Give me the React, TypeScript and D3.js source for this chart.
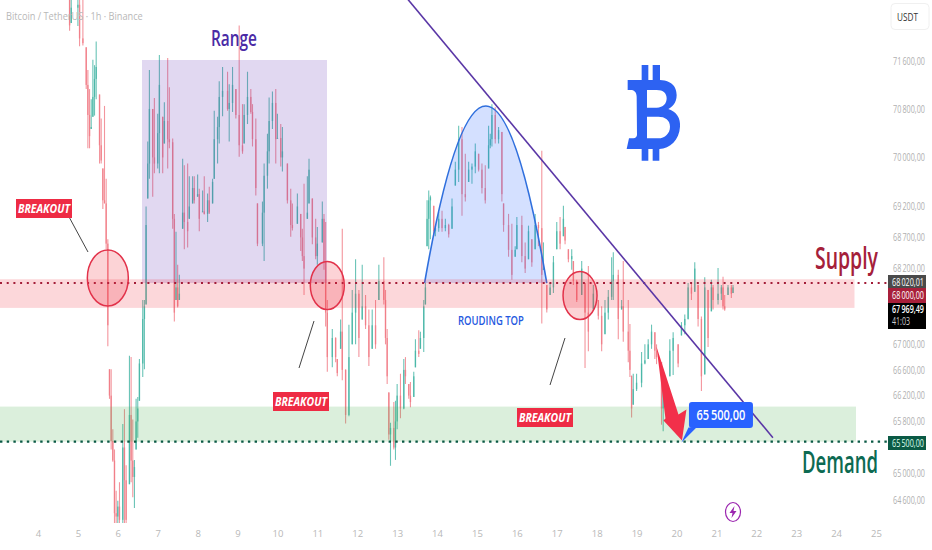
import { useRef, useEffect } from 'react'
import * as d3 from 'd3'

const width = 932
const height = 550

// hours since midnight of the 4th (candles that show up in the picture)
const hours = [
  19, 20, 24, 25, 27, 29, 30, 31, 32, 33, 34, 35, 37, 38, 39, 40, 41, 42, 43, 44,
  45, 46, 47, 48, 49, 51, 52, 53, 55, 56, 57, 58, 59, 60, 61, 63, 64, 65, 66, 67,
  69, 70, 72, 73, 75, 76, 78, 79, 81, 82, 83, 84, 85, 87, 88, 90, 91, 93, 94, 96,
  97, 99, 100, 102, 103, 105, 106, 108, 109, 111, 114, 115, 117, 119, 121, 123, 124, 126, 128, 129,
  131, 132, 135, 136, 138, 139, 141, 143, 144, 146, 147, 150, 152, 153, 156, 158, 159, 160, 162, 163,
  165, 167, 168, 171, 172, 173, 174, 177, 179, 180, 182, 183, 185, 187, 189, 191, 193, 195, 197, 199,
  201, 203, 205, 208, 209, 210, 211, 212, 214, 215, 216, 218, 220, 221, 223, 224, 226, 227, 229, 230,
  232, 233, 234, 235, 236, 238, 239, 241, 243, 245, 247, 249, 251, 253, 255, 257, 259, 261, 263, 265,
  267, 269, 271, 272, 273, 275, 277, 279, 280, 283, 285, 287, 288, 291, 293, 295, 297, 299, 301, 303,
  304, 306, 308, 310, 312, 314, 316, 317, 319, 321, 322, 324, 327, 329, 331, 334, 337, 339, 341, 343,
  345, 346, 349, 351, 352, 355, 356, 357, 358, 360, 363, 365, 367, 369, 371, 372, 375, 376, 378, 380,
  382, 385, 387, 389, 391, 393, 395, 397, 399, 401, 403, 405, 406, 409, 411, 412, 413, 415, 417, 418,
]
const highs = [
  72700, 72700, 72700, 72700, 72700, 71830, 71450, 71130, 70960, 71620, 71530, 71930, 71040, 70640, 69820, 70850, 69650, 68670, 66610, 66610,
  65680, 65370, 64740, 64590, 64870, 65760, 65990, 65130, 66820, 66800, 65830, 65210, 66150, 66180, 66770, 67700, 67700, 69200, 70260, 71450,
  70800, 70980, 70720, 71700, 70670, 70910, 71650, 71160, 70310, 69080, 68790, 68260, 68100, 69980, 69870, 69900, 69690, 69690, 69690, 69720,
  69490, 69460, 69690, 69410, 69520, 69650, 70770, 70670, 71260, 71500, 71420, 71210, 71500, 71130, 72200, 70880, 70880, 71420, 71130, 70880,
  70640, 69250, 69280, 69900, 70390, 70990, 71090, 71130, 70720, 70550, 70500, 69900, 69490, 69250, 69410, 69080, 68840, 69570, 69690, 69980,
  69330, 69000, 68870, 69280, 69080, 68950, 67700, 67240, 67110, 66770, 67390, 68840, 66610, 67310, 67860, 68350, 67860, 68260, 67780, 67550,
  67550, 67700, 68260, 68380, 67860, 67240, 66250, 65780, 66100, 66120, 66380, 66540, 66770, 66800, 66380, 66410, 66570, 67080, 67220, 67200,
  67700, 67970, 69300, 69460, 69380, 69210, 68890, 69110, 69130, 69000, 68920, 69330, 69930, 70520, 70500, 70060, 69930, 69900, 70230, 70060,
  69900, 69870, 70520, 70390, 70880, 70830, 70500, 70420, 69250, 69080, 68920, 68560, 69030, 69050, 68620, 68890, 68670, 69080, 68950, 70110,
  68620, 67940, 67970, 68400, 68950, 69030, 69210, 68870, 68510, 68510, 68320, 68020, 68320, 67970, 68240, 67940, 67700, 67600, 67700, 67860,
  68380, 68460, 68180, 67700, 68320, 67700, 67320, 66510, 66540, 66540, 66880, 67000, 67080, 67310, 67190, 67000, 66720, 66460, 65990, 67080,
  67190, 67000, 67350, 67470, 67970, 67970, 68300, 67940, 67440, 68060, 67860, 68020, 67940, 68210, 67940, 68070, 67780, 67940, 67940, 67940,
]
const lows = [
  72110, 72240, 72190, 71850, 71860, 71130, 70150, 70150, 70470, 70670, 70690, 70960, 69900, 69900, 69160, 69250, 68510, 66970, 66150, 65370,
  65180, 64200, 64200, 64200, 64200, 64200, 64200, 64200, 64840, 64870, 64640, 64480, 65370, 65550, 66120, 66490, 66610, 67630, 69330, 69650,
  69360, 69740, 69820, 69740, 69740, 70230, 69820, 70150, 68840, 67360, 67700, 67580, 67700, 68840, 68510, 68540, 69000, 69250, 69250, 69360,
  68800, 69110, 69070, 68950, 69080, 69250, 69650, 69900, 70230, 70680, 70770, 70260, 70750, 70640, 70010, 70060, 70230, 70550, 70720, 70180,
  69380, 68560, 68560, 68320, 69490, 69900, 70470, 69900, 70310, 69850, 69770, 69250, 68710, 68810, 68920, 68480, 68320, 67780, 69000, 69250,
  68590, 68350, 68260, 68620, 68180, 67280, 66570, 66640, 66720, 66500, 66930, 66440, 65770, 65880, 67000, 67000, 66800, 67390, 67240, 66660,
  66930, 66930, 67700, 67630, 67000, 66380, 65520, 65120, 65370, 65210, 65680, 65850, 65990, 66380, 66150, 66020, 66180, 66640, 66800, 66930,
  66880, 67630, 68560, 68510, 68670, 68720, 68720, 68790, 68790, 68800, 68700, 68840, 69540, 69600, 69050, 69280, 69600, 69570, 69740, 69770,
  69410, 69250, 69820, 70150, 70180, 70230, 70230, 69280, 68790, 68390, 68020, 68390, 68510, 68300, 68130, 68350, 68230, 68510, 68560, 67330,
  68180, 67500, 67780, 67810, 68510, 68510, 68720, 68590, 68300, 68180, 67940, 67670, 67780, 66630, 66890, 67550, 67390, 66890, 67160, 67390,
  67700, 67700, 67080, 67550, 67040, 66720, 66490, 65860, 66060, 66270, 66330, 66690, 66770, 66930, 66770, 66690, 65750, 65650, 65860, 66500,
  66520, 66640, 67140, 67160, 67390, 67700, 67830, 67280, 66270, 66530, 66960, 67520, 67550, 67630, 67700, 67550, 67530, 67780, 67730, 67810,
]
const closes = [
  72200, 72500, 72550, 71980, 71900, 71200, 70700, 70350, 70500, 71000, 71300, 71500, 70200, 69950, 69300, 69250, 68600, 67300, 66200, 65500,
  65200, 64400, 64350, 64500, 64300, 65400, 64900, 64300, 65900, 65200, 64950, 65100, 65800, 66000, 66700, 67400, 67600, 68900, 69900, 70800,
  70000, 69900, 70400, 71200, 70000, 70600, 70300, 70250, 69000, 67500, 67900, 67600, 67800, 69100, 68950, 68800, 69200, 69500, 69300, 69400,
  69000, 69120, 69080, 69300, 69100, 69600, 70300, 70500, 71000, 71100, 70800, 70900, 71200, 70700, 70200, 70100, 70700, 71000, 70750, 70300,
  69500, 68600, 69100, 69700, 70100, 70600, 70900, 70300, 70320, 70000, 70100, 69300, 68900, 68850, 69200, 68700, 68400, 68200, 69100, 69800,
  68700, 68400, 68600, 69000, 68300, 67500, 66800, 67100, 66800, 66550, 67200, 66600, 65900, 66800, 67500, 67800, 67100, 67600, 67300, 66800,
  67300, 67000, 68000, 67700, 67100, 66500, 65600, 65700, 65400, 65800, 66200, 66000, 66600, 66500, 66200, 66100, 66500, 66900, 66850, 67100,
  67600, 67900, 69000, 69300, 69350, 68800, 68850, 69000, 68850, 68900, 68750, 69200, 69800, 70300, 69400, 69350, 69800, 69850, 70100, 69800,
  69500, 69300, 70200, 70300, 70700, 70300, 70450, 69400, 68900, 68500, 68100, 68500, 68900, 68400, 68200, 68800, 68300, 68900, 68850, 68100,
  68200, 67550, 67900, 68300, 68800, 68600, 69000, 68650, 68350, 68400, 68000, 67700, 68200, 67500, 67200, 67800, 67450, 67000, 67500, 67750,
  68000, 68100, 67400, 67600, 67200, 66900, 66600, 66000, 66300, 66400, 66700, 66750, 67000, 67200, 66900, 66800, 66000, 66300, 65950, 66900,
  67100, 66700, 67300, 67400, 67900, 67800, 68200, 67400, 66500, 67900, 67100, 67900, 67700, 67800, 67900, 67600, 67550, 67900, 67800, 67900,
]
const firstOpen = 72700

const dayTicks = d3.range(4, 26)
const priceTicks = [71600, 70800, 70000, 69200, 68700, 68200, 67000, 66600, 66200, 65800, 65000, 64600]

const supplyZone = [68030, 67575]
const supplyLine = 67970
const demandZone = [66030, 65490]
const demandLine = 65490
const rangeTop = 71600
const trendHours = [222.5, 442]
const trendPrices = [72640, 65550]
const topHours = [232.5, 269.5, 306]
const topPrices = [67970, 70850]
const circles = [
  { hour: 42, price: 68050, rx: 20.5, ry: 28 },
  { hour: 174, price: 67930, rx: 17, ry: 24 },
  { hour: 326, price: 67770, rx: 17, ry: 24 },
]
const breakouts = [
  { x: 16, y: 199, lx1: 68, ly1: 215, lx2: 88, ly2: 252 },
  { x: 273, y: 392, lx1: 314, ly1: 321, lx2: 299, ly2: 368 },
  { x: 517, y: 408, lx1: 565, ly1: 338, lx2: 550, ly2: 385 },
]

const x = d3.scaleLinear().domain([0, 504]).range([38, 876])
const y = d3.scaleLog().domain([71600, 64600]).range([61, 500])
const priceFmt = d3
  .formatLocale({ decimal: ',', thousands: '\u2009', grouping: [3], currency: ['', ''] })
  .format(',.2f')

const sans = '"Open Sans", "Noto Sans", sans-serif'

const App = () => {
  const ref = useRef<SVGSVGElement>(null)

  useEffect(() => {
    if (!ref.current) return
    const svg = d3.select(ref.current)
    svg.selectAll('*').remove()

    // squeezed labels, the source image is narrower than it was drawn
    const label = (
      text: string, tx: number, ty: number, w: number, size: number, fill: string,
      weight = 400, style = 'normal'
    ) => {
      const t = svg.append('text')
        .attr('font-family', sans)
        .attr('font-size', size)
        .attr('font-weight', weight)
        .attr('font-style', style)
        .attr('fill', fill)
        .text(text)
      const natural = (t.node() as SVGTextElement).getComputedTextLength()
      t.attr('transform', `translate(${tx},${ty}) scale(${w / natural},1)`)
      return t
    }

    svg.append('clipPath').attr('id', 'plot')
      .append('rect').attr('x', 0).attr('y', 0).attr('width', 888).attr('height', 523)

    // candles
    const cg = svg.append('g').attr('clip-path', 'url(#plot)').style('filter', 'blur(0.3px)')
    hours.forEach((h, i) => {
      const open = Math.min(highs[i], Math.max(lows[i], i === 0 ? firstOpen : closes[i - 1]))
      const up = closes[i] >= open
      const color = up ? '#45b5a5' : '#f07a84'
      cg.append('line')
        .attr('x1', x(h)).attr('x2', x(h))
        .attr('y1', y(highs[i])).attr('y2', y(lows[i]))
        .attr('stroke', color).attr('stroke-width', 1.1).attr('stroke-opacity', 0.8)
      cg.append('rect')
        .attr('x', x(h) - 0.7).attr('width', 1.4)
        .attr('y', y(Math.max(open, closes[i])))
        .attr('height', Math.max(1, Math.abs(y(open) - y(closes[i]))))
        .attr('fill', color).attr('fill-opacity', 0.8)
    })

    // range box
    svg.append('rect')
      .attr('x', 142).attr('width', 185)
      .attr('y', y(rangeTop) - 1)
      .attr('height', y(supplyLine) - y(rangeTop) + 1)
      .attr('fill', '#673ab7').attr('fill-opacity', 0.2)
    label('Range', 211, 46, 46, 22, '#4a2ba6', 600)

    // rounding top
    const x0 = x(topHours[0]), cx = x(topHours[1]), x1 = x(topHours[2])
    const y0 = y(topPrices[0]), yPeak = y(topPrices[1])
    const top = d3.path()
    top.moveTo(x0, y0)
    top.quadraticCurveTo(cx, 2 * yPeak - y0, x1, y0)
    svg.append('path').attr('d', top.toString())
      .attr('fill', '#2962ff').attr('fill-opacity', 0.2)
      .attr('stroke', '#2f6fdd').attr('stroke-width', 1.6)
    label('ROUDING TOP', 458, 325, 66, 12, '#2458e0', 600)

    // zones
    svg.append('rect').attr('x', 0).attr('width', 854.5)
      .attr('y', y(supplyZone[0])).attr('height', y(supplyZone[1]) - y(supplyZone[0]))
      .attr('fill', '#f23645').attr('fill-opacity', 0.2)
    svg.append('rect').attr('x', 0).attr('width', 856)
      .attr('y', y(demandZone[0])).attr('height', y(demandZone[1]) - y(demandZone[0]))
      .attr('fill', '#4caf50').attr('fill-opacity', 0.2)
    svg.append('line').attr('x1', 0).attr('x2', 888)
      .attr('y1', y(supplyLine)).attr('y2', y(supplyLine))
      .attr('stroke', '#a31c38').attr('stroke-width', 2).attr('stroke-dasharray', '2 4.7')
    svg.append('line').attr('x1', 0).attr('x2', 888)
      .attr('y1', y(demandLine)).attr('y2', y(demandLine))
      .attr('stroke', '#0b5a45').attr('stroke-width', 2.4).attr('stroke-dasharray', '2.4 4.3')

    // trend line
    svg.append('line')
      .attr('x1', x(trendHours[0])).attr('y1', y(trendPrices[0]))
      .attr('x2', x(trendHours[1])).attr('y2', y(trendPrices[1]))
      .attr('stroke', '#5a37a6').attr('stroke-width', 1.6)

    // breakout circles and tags
    circles.forEach(c => {
      svg.append('ellipse')
        .attr('cx', x(c.hour)).attr('cy', y(c.price))
        .attr('rx', c.rx).attr('ry', c.ry)
        .attr('fill', '#f23645').attr('fill-opacity', 0.22)
        .attr('stroke', '#e2324a').attr('stroke-width', 1.5)
    })
    breakouts.forEach(b => {
      svg.append('line')
        .attr('x1', b.lx1).attr('y1', b.ly1).attr('x2', b.lx2).attr('y2', b.ly2)
        .attr('stroke', '#444').attr('stroke-width', 1)
      svg.append('rect').attr('x', b.x).attr('y', b.y).attr('width', 56).attr('height', 19)
        .attr('fill', '#ee2b44')
      label('BREAKOUT', b.x + 2, b.y + 14, 52, 13, '#fff', 700, 'italic')
    })

    // bitcoin logo
    svg.append('path')
      .attr('transform', 'translate(615,60) scale(0.3333)')
      .attr('fill-rule', 'evenodd')
      .attr('fill', '#2d62f2')
      .attr('d', 'M80,15 L100,15 L100,60 L113,60 L113,15 L135,15 L135,60 C175,62 185,85 185,105 C185,130 170,142 160,147 C185,155 197,175 195,200 C193,240 165,265 133,267 L133,302 L113,302 L113,267 L100,267 L100,302 L80,302 L80,267 L35,267 L42,235 L55,235 C62,235 65,230 66,225 L65,110 C65,95 55,90 48,90 L38,90 L38,60 L80,60 Z M96,90 L96,143 L125,143 C145,143 155,130 155,115 C155,100 145,90 125,90 Z M96,170 L96,235 L130,235 C150,235 165,220 165,200 C165,180 150,170 130,170 Z')

    // target arrow + callout, offsets from the tip on the demand line
    const tx = x(387), ty = y(demandLine)
    const poly = (pts: number[][]) => pts.map(p => `${tx + p[0]},${ty + p[1]}`).join(' ')
    svg.append('polygon')
      .attr('points', poly([[-25, -95], [-3, -27], [5, -32], [0.5, -1], [-18, -21], [-16, -23]]))
      .attr('fill', '#f2304a')
    svg.append('polygon')
      .attr('points', poly([[7, -14], [15, -14], [0, 1]]))
      .attr('fill', '#2962ff')
    svg.append('rect')
      .attr('x', tx + 7.5).attr('y', ty - 39.5).attr('width', 64).attr('height', 26).attr('rx', 3)
      .attr('fill', '#2962ff')
    label(priceFmt(65500), tx + 15, ty - 22, 49, 13.5, '#fff', 600)

    label('Supply', 815, 269, 63, 30, '#a5203a', 600)
    label('Demand', 802, 473, 76, 30, '#0d6a52', 600)

    // header
    label('Bitcoin / TetherUS \u00b7 1h \u00b7 Binance', 6, 20, 137, 11, '#b8b8b8')

    // axes
    const xAxis = d3.axisBottom(x)
      .tickValues(dayTicks.map(d => (d - 4) * 24))
      .tickFormat((_, i) => String(dayTicks[i]))
      .tickSize(0)
    const xg = svg.append('g').attr('transform', 'translate(0,527)').call(xAxis)
    xg.select('.domain').remove()
    xg.selectAll('text').attr('fill', '#b8b8b8').attr('font-family', sans).attr('font-size', 9.5)

    const yAxis = d3.axisRight(y).tickValues(priceTicks)
      .tickFormat(d => priceFmt(+d)).tickSize(0)
    const yg = svg.append('g').attr('transform', 'translate(893,0)').call(yAxis)
    yg.select('.domain').remove()
    yg.selectAll<SVGTextElement, number>('text')
      .attr('x', 0)
      .attr('fill', '#b0b0b0').attr('font-family', sans).attr('font-size', 10)
      .each(function () {
        const natural = this.getComputedTextLength()
        d3.select(this).attr('transform', `scale(${32 / natural},1)`)
      })

    // price tags
    const tag = (ty: number, h: number, fill: string) =>
      svg.append('rect').attr('x', 888).attr('y', ty).attr('width', 38).attr('height', h).attr('fill', fill)
    tag(275, 13, '#4a4a4a')
    tag(288, 15, '#a81f3a')
    tag(303, 26, '#000')
    tag(436, 14, '#0b5a45')
    label(priceFmt(68020.01), 892, 285.5, 32, 10, '#fff')
    label(priceFmt(68000), 892, 299, 32, 10, '#fff')
    label(priceFmt(67969.49), 892, 313, 32, 10, '#fff', 600)
    label('41:03', 892, 325, 18, 10, '#ccc')
    label(priceFmt(65500), 892, 446.5, 32, 10, '#dfe')

    // currency button
    svg.append('rect').attr('x', 891).attr('y', 3.5).attr('width', 38).attr('height', 26).attr('rx', 4)
      .attr('fill', '#fff').attr('stroke', '#f0f0f0')
    label('USDT', 897, 21, 21, 10.5, '#333')

    // lightning marker
    svg.append('ellipse').attr('cx', 733).attr('cy', 512).attr('rx', 7.5).attr('ry', 9.5)
      .attr('fill', '#fff').attr('stroke', '#9c27b0').attr('stroke-width', 1.2)
    svg.append('polygon')
      .attr('points', '734.5,506 729.5,513 732.5,513 731.5,518 736.5,511 733.5,511')
      .attr('fill', '#9c27b0')
  }, [])

  return (
    <svg
      ref={ref}
      width={width}
      height={height}
      style={{ position: 'fixed', left: 0, top: 0, display: 'block', background: '#fff' }}
    />
  )
}

export default App
